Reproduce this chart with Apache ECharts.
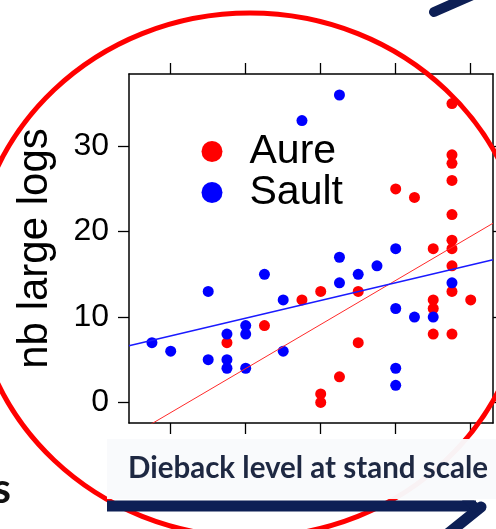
<!DOCTYPE html>
<html>
<head>
<meta charset="utf-8">
<script src="https://cdn.jsdelivr.net/npm/echarts@6/dist/echarts.min.js"></script>
<style>
html,body{margin:0;padding:0;background:#fff;}
#chart{width:496px;height:529px;}
</style>
</head>
<body>
<div id="chart"></div>
<script>
// ---- data ----
const aureX = [1.75, 2.25, 2.75, 3, 3, 3, 3.25, 3.5, 3.5, 4, 4.25, 4.5, 4.5, 4.5, 4.5, 4.75, 4.75, 4.75, 4.75, 4.75, 4.75, 4.75, 4.75, 4.75, 4.75, 5];
const aureY = [7, 9, 12, 13, 1, 0, 3, 13, 7, 25, 24, 18, 12, 11, 8, 35, 29, 28, 26, 22, 19, 18, 16, 13, 8, 12];
const saultX = [0.75, 1, 1.5, 1.5, 1.75, 1.75, 1.75, 2, 2, 2, 2.25, 2.5, 2.5, 2.75, 3.25, 3.25, 3.25, 3.5, 3.75, 4, 4, 4, 4, 4.25, 4.5, 4.75];
const saultY = [7, 6, 13, 5, 8, 5, 4, 9, 8, 4, 15, 12, 6, 33, 36, 17, 14, 15, 16, 18, 11, 4, 2, 10, 10, 14];
// fitted lines: [intercept, slope]
const aureFit = [-6.35, 5.16];
const saultFit = [5.71, 2.075];
const xTicks = [1, 2, 3, 4, 5];
const yTicks = [0, 10, 20, 30];
const seriesNames = ['Aure', 'Sault'];
const xMin = 0.444, xMax = 5.297, yMin = -2.41, yMax = 38.46;

const zip = (xs, ys) => xs.map((x, i) => [x, ys[i]]);
const fitLine = f => [[xMin, f[0] + f[1] * xMin], [xMax, f[0] + f[1] * xMax]];

const FONT = 'Liberation Sans, Arial, sans-serif';
const axisBase = {
  type: 'value', min: xMin, max: xMax,
  axisLine: { show: true, onZero: false, lineStyle: { color: '#000', width: 1.5 } },
  axisTick: { show: true, inside: false, length: 11, customValues: xTicks, lineStyle: { color: '#000', width: 1.3 } },
  axisLabel: { show: false },
  splitLine: { show: false }
};
const yBase = {
  type: 'value', min: yMin, max: yMax,
  axisLine: { show: true, onZero: false, lineStyle: { color: '#000', width: 1.5 } },
  axisTick: { show: true, inside: false, length: 11, customValues: yTicks, lineStyle: { color: '#000', width: 1.3 } },
  splitLine: { show: false }
};

const chart = echarts.init(document.getElementById('chart'), null, { renderer: 'canvas' });
chart.setOption({
  animation: false,
  backgroundColor: '#ffffff',
  grid: { left: 129, top: 74, width: 364, height: 349, containLabel: false, outerBoundsMode: 'none' },
  legend: {
    orient: 'vertical', left: 196.5, top: 126,
    data: seriesNames,
    icon: 'circle', itemWidth: 21, itemHeight: 21, itemGap: 0,
    textStyle: { fontFamily: FONT, fontSize: 41, color: '#000', lineHeight: 40, padding: [0, 0, 0, 22] }
  },
  xAxis: [
    Object.assign({}, axisBase, { position: 'bottom' }),
    Object.assign({}, axisBase, { position: 'top' })
  ],
  yAxis: [
    Object.assign({}, yBase, {
      position: 'left',
      axisLabel: { show: true, customValues: yTicks, fontFamily: FONT, fontSize: 32, color: '#000', margin: 20 },
      name: 'nb large logs', nameLocation: 'middle', nameGap: 73, nameRotate: 90, nameMoveOverlap: false,
      nameTextStyle: { fontFamily: FONT, fontSize: 42, color: '#000' }
    }),
    Object.assign({}, yBase, { position: 'right', axisLabel: { show: false } })
  ],
  series: [
    { name: seriesNames[0], type: 'scatter', data: zip(aureX, aureY), symbol: 'circle', symbolSize: 11, itemStyle: { color: '#ff0000', opacity: 1 }, z: 3 },
    { name: seriesNames[1], type: 'scatter', data: zip(saultX, saultY), symbol: 'circle', symbolSize: 11, itemStyle: { color: '#0000ff', opacity: 1 }, z: 4 },
    { name: seriesNames[0], type: 'line', data: fitLine(aureFit), showSymbol: false, symbol: 'none', lineStyle: { color: '#ff2a2a', width: 1 }, clip: true, z: 5 },
    { name: seriesNames[1], type: 'line', data: fitLine(saultFit), showSymbol: false, symbol: 'none', lineStyle: { color: '#1a1aff', width: 1.4 }, clip: true, z: 5 }
  ],
  graphic: [
    // hand-drawn red ellipse annotation
    { type: 'ellipse', z: 100, shape: { cx: 250, cy: 275, rx: 277, ry: 262 }, style: { fill: null, stroke: '#ff0000', lineWidth: 5 } },
    // white caption box
    { type: 'rect', z: 110, shape: { x: 107, y: 439, width: 389, height: 60 }, style: { fill: 'rgba(249,250,252,0.97)' } },
    { type: 'text', z: 111, x: 128, y: 468, style: { text: 'Dieback level at stand scale', fontFamily: 'Lato, Open Sans, sans-serif', fontWeight: 'bold', fontSize: 29.5, fill: '#1e2842', textVerticalAlign: 'middle', textAlign: 'left' } },
    // bottom arrow
    { type: 'polyline', z: 120, shape: { points: [[107, 506], [476, 506]] }, style: { stroke: '#0d1f55', lineWidth: 11, lineCap: 'butt' } },
    { type: 'polyline', z: 120, shape: { points: [[481, 507], [440, 540]] }, style: { stroke: '#0d1f55', lineWidth: 11, lineCap: 'round' } },
    { type: 'polygon', z: 120, shape: { points: [[462, 500.5], [474, 500.5], [484, 507], [474, 513]] }, style: { fill: '#0d1f55' } },
    // top-right arrow fragment
    { type: 'line', z: 120, shape: { x1: 434, y1: 12, x2: 475, y2: -6 }, style: { stroke: '#0d1f55', lineWidth: 10, lineCap: 'round' } },
    // clipped letter at left edge
    { type: 'text', z: 120, x: 11, y: 510, style: { text: 's', fontFamily: 'Lato, Open Sans, sans-serif', fontWeight: 'bold', fontSize: 42, fill: '#111', textAlign: 'right', textVerticalAlign: 'bottom' } }
  ]
});
</script>
</body>
</html>
